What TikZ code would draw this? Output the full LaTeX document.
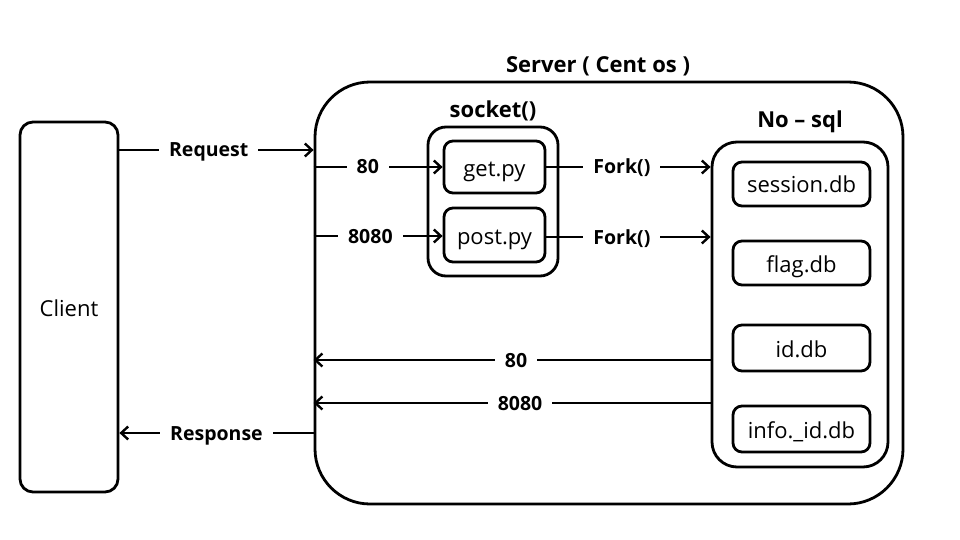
\documentclass[tikz,border=0pt]{standalone}
\usepackage{fontspec}
\setmainfont{Open Sans}
\usetikzlibrary{arrows.meta}
\begin{document}
\begin{tikzpicture}[x=1pt,y=-1pt,
  box/.style={draw,line width=2.8pt,rounded corners=#1,inner sep=0pt},
  box/.default=10pt,
  arr/.style={line width=2.6pt,-{Straight Barb[length=7pt,width=13pt,line width=2.4pt]}},
  lbl/.style={fill=white,font=\bfseries\fontsize{19.5}{20}\selectfont,inner xsep=10pt,inner ysep=0pt,text height=16pt,text depth=2pt},
  ttl/.style={font=\bfseries\fontsize{22}{22}\selectfont},
  txt/.style={font=\fontsize{22}{22}\selectfont,text height=20pt,text depth=2pt}]
\useasboundingbox[fill=white] (0,0) rectangle (960,540);
% boxes
\node[box=13pt,minimum width=98pt,minimum height=370pt,txt] (client) at (69,307) {Client};
\node[box=55pt,minimum width=588pt,minimum height=422pt] (server) at (609,293) {};
\node[ttl] (servert) at (598,66) {Server ( Cent os )};
\node[box=18pt,minimum width=130pt,minimum height=149pt] (socket) at (493,201.5) {};
\node[ttl] (sockett) at (493,111) {socket()};
\node[box=9pt,minimum width=101pt,minimum height=52pt,txt] (get) at (494.5,167) {get.py};
\node[box=9pt,minimum width=101pt,minimum height=54pt,txt] (post) at (494.5,235) {post.py};
\node[box=25pt,minimum width=176pt,minimum height=325pt] (nosql) at (800,304.5) {};
\node[ttl] (nosqlt) at (800,122) {No – sql};
\node[box=9pt,minimum width=137pt,minimum height=44pt,txt] (session) at (801.5,184) {session.db};
\node[box=9pt,minimum width=137pt,minimum height=44pt,txt] (flag) at (801.5,263) {flag.db};
\node[box=9pt,minimum width=137pt,minimum height=46pt,txt] (iddb) at (801.5,348) {id.db};
\node[box=9pt,minimum width=137pt,minimum height=46pt,txt] (info) at (801.5,429) {info.\_id.db};
% connectors
\draw[arr] (client.east |- 0,150) -- node[lbl,pos=0.46] {Request} (server.west |- 0,150);
\draw[arr] (server.west |- 0,433) -- node[lbl,pos=0.5] {Response} (client.east |- 0,433);
\draw[arr] (server.west |- get.west) -- node[lbl,pos=0.42] {80} (get.west);
\draw[arr] (server.west |- 0,236) -- node[lbl,pos=0.44] {8080} (post.west |- 0,236);
\draw[arr] (get.east) -- node[lbl,pos=0.46] {Fork()} (nosql.west |- get.east);
\draw[arr] (post.east |- 0,237) -- node[lbl,pos=0.46] {Fork()} (nosql.west |- 0,237);
\draw[arr] (nosql.west |- 0,360) -- node[lbl,pos=0.49] {80} (server.west |- 0,360);
\draw[arr] (nosql.west |- 0,403) -- node[lbl,pos=0.48] {8080} (server.west |- 0,403);
\end{tikzpicture}
\end{document}
